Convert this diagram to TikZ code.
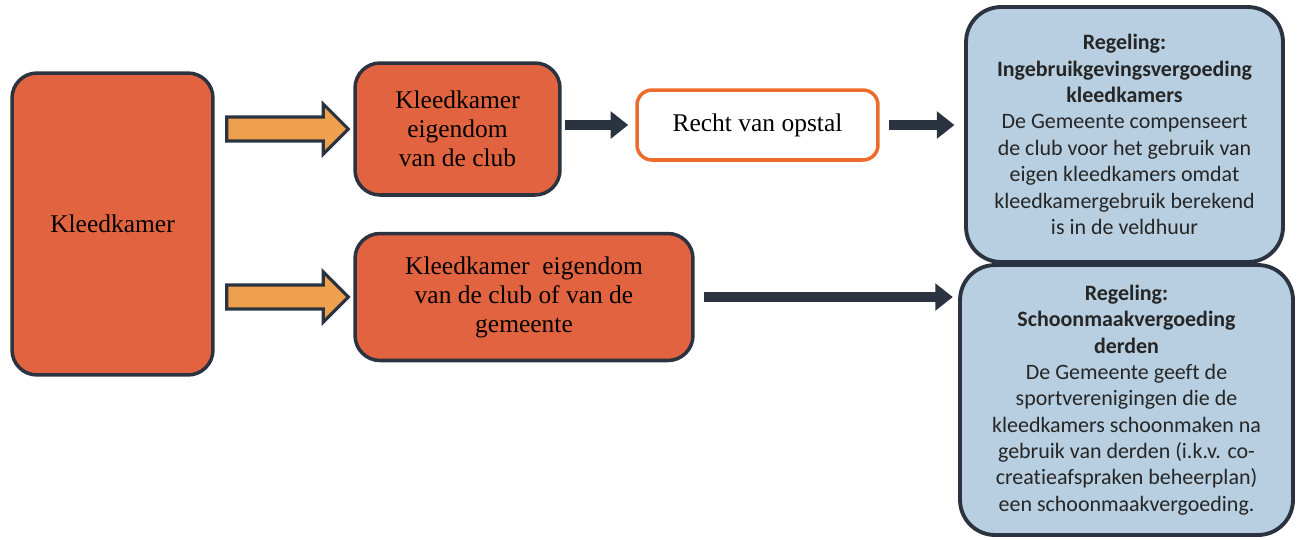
\documentclass[tikz,border=0pt]{standalone}
\usepackage{xcolor}
\usepackage{fontspec}
\setmainfont{Liberation Serif}
\newfontfamily\calibri[Ligatures=NoCommon]{Carlito}
\usepackage{tikz}
\usetikzlibrary{calc}
\usetikzlibrary{arrows.meta}

\definecolor{kleedfill}{HTML}{E2633F}
\definecolor{darkline}{HTML}{2B3340}
\definecolor{regelfill}{HTML}{B7CFE0}
\definecolor{fatfill}{HTML}{EFA04C}
\definecolor{rechtline}{HTML}{EC6B2D}

% fat orange arrow from a node to the next box
\newcommand{\fatarrow}[2]{%
    \filldraw[fatarrow]
        ($(#1.east |- #2.west)+(12,-12)$) -- ($(#2.west)+(-30,-12)$)
        -- ($(#2.west)+(-30,-25)$) -- ($(#2.west)+(-5,0)$)
        -- ($(#2.west)+(-30,25)$) -- ($(#2.west)+(-30,12)$)
        -- ($(#1.east |- #2.west)+(12,12)$) -- cycle;}

\begin{document}
\begin{tikzpicture}[x=0.02cm, y=-0.02cm,
        kleedbox/.style={draw=darkline, line width=2pt, fill=kleedfill,
            rounded corners=0.5cm, align=center, font=\fontsize{14.5}{16.5}\selectfont},
        rechtbox/.style={draw=rechtline, line width=2pt, fill=white,
            rounded corners=0.3cm, font=\fontsize{14.5}{16.5}\selectfont},
        regelbox/.style={draw=darkline, line width=2.2pt, fill=regelfill,
            rounded corners=0.7cm, align=center, text=black!85,
            font=\calibri\fontsize{12.5}{15}\selectfont},
        fatarrow/.style={draw=darkline, line width=1.8pt, fill=fatfill},
        darrow/.style={draw=darkline, line width=5.8pt,
            -{Triangle[length=10pt, width=15pt]}}]
        \useasboundingbox (0,0) rectangle (1300,539);

        % Kleedkamer
        \node[kleedbox, minimum width=4.02cm, minimum height=6.04cm] (kleed) at (112.5,224) {Kleedkamer};

        % eigendom van de club
        \node[kleedbox, minimum width=4.1cm, minimum height=2.64cm] (club) at (457.5,129)
            {Kleedkamer\\eigendom\\van de club};
        \node[rechtbox, minimum width=4.82cm, minimum height=1.4cm] (recht) at (757.5,125) {Recht van opstal};

        % eigendom van de club of van de gemeente
        \node[kleedbox, minimum width=6.76cm, minimum height=2.54cm] (gem) at (524,297)
            {Kleedkamer~ eigendom\\van de club of van de\\gemeente};

        % Regelingen
        \node[regelbox, minimum width=6.34cm, minimum height=5.1cm] (ingebruik) at (1124.5,134.5)
            {\textbf{Regeling:}\\\textbf{Ingebruikgevingsvergoeding}\\\textbf{kleedkamers}\\
             De Gemeente compenseert\\de club voor het gebruik van\\eigen kleedkamers omdat\\
             kleedkamergebruik berekend\\is in de veldhuur};
        \node[regelbox, minimum width=6.66cm, minimum height=5.4cm] (schoon) at (1126.5,400)
            {\textbf{Regeling:}\\\textbf{Schoonmaakvergoeding}\\\textbf{derden}\\
             De Gemeente geeft de\\sportverenigingen die de\\kleedkamers schoonmaken na\\
             gebruik van derden (i.k.v. co-\\creatieafspraken beheerplan)\\een schoonmaakvergoeding.};

        \fatarrow{kleed}{club}
        \fatarrow{kleed}{gem}

        \draw[darrow, shorten <=2pt, shorten >=4pt] (club.east |- recht.west) -- (recht.west);
        \draw[darrow, shorten <=5.5pt, shorten >=5.5pt] (recht.east) -- (recht.east -| ingebruik.west);
        \draw[darrow, shorten <=5.5pt, shorten >=3pt] (gem.east) -- (gem.east -| schoon.west);
    \end{tikzpicture}
\end{document}
